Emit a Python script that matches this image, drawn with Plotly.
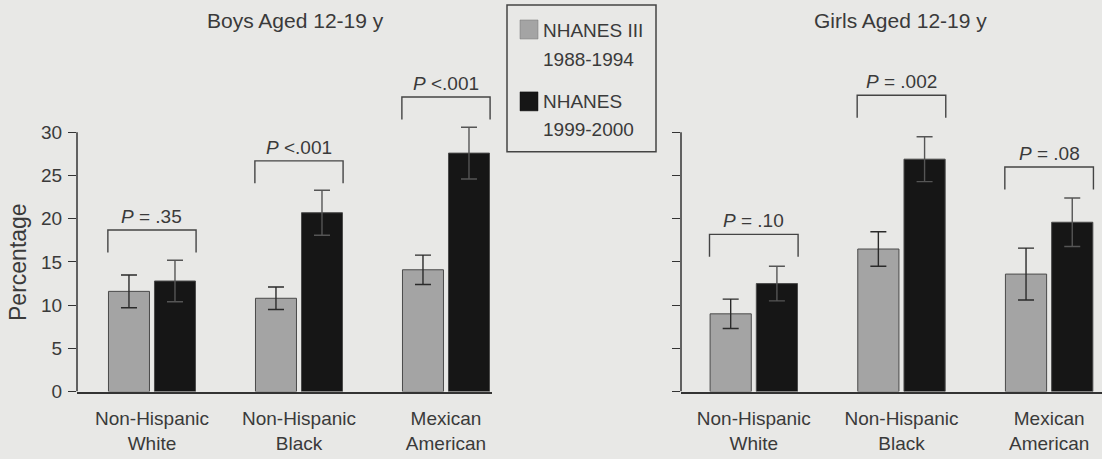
import plotly.graph_objects as go

# ---------------- data ----------------
groups = ["Non-Hispanic<br>White", "Non-Hispanic<br>Black", "Mexican<br>American"]
series_names = ["NHANES III 1988-1994", "NHANES 1999-2000"]

boys_1988 = [11.6, 10.8, 14.1]
boys_1988_err = [1.9, 1.3, 1.7]
boys_1999 = [12.8, 20.7, 27.6]
boys_1999_err = [2.4, 2.6, 3.0]

girls_1988 = [9.0, 16.5, 13.6]
girls_1988_err = [1.7, 2.0, 3.0]
girls_1999 = [12.5, 26.9, 19.6]
girls_1999_err = [2.0, 2.6, 2.8]

boys_p = ["= .35", "<.001", "<.001"]
girls_p = ["= .10", "= .002", "= .08"]
boys_bracket = [18.7, 26.7, 34.1]
girls_bracket = [18.2, 34.3, 26.0]

y_ticks = [0, 5, 10, 15, 20, 25, 30]

# ---------------- style ----------------
W, H = 1102, 459
SY = 0.977  # vertical correction for how the page is photographed
BG = "#e8e8e6"
GRAY = "#a4a4a4"
BLACK = "#161616"
INK = "#3a3a3a"
FONT = "Liberation Sans, Arial, sans-serif"
FS = 19

def px_x(p):
    return p / W

def px_y(p):
    return 1 - (p / SY) / H

fig = go.Figure()
xpos = list(range(len(groups)))

panels = [
    ("x", "y", boys_1988, boys_1988_err, boys_1999, boys_1999_err, boys_p, boys_bracket),
    ("x2", "y2", girls_1988, girls_1988_err, girls_1999, girls_1999_err, girls_p, girls_bracket),
]

annotations = []
for xa, ya, v1, e1, v2, e2, pl, br in panels:
    for vals, errs, col, name, ecol in [
        (v1, e1, GRAY, series_names[0], "#2a2a2a"),
        (v2, e2, BLACK, series_names[1], "#555555"),
    ]:
        fig.add_trace(go.Bar(
            x=xpos, y=vals, name=name, xaxis=xa, yaxis=ya,
            marker=dict(color=col, line=dict(color="#4a4a4a", width=1)),
            error_y=dict(type="data", array=errs, visible=True,
                         color=ecol, thickness=1.4, width=8),
            showlegend=False, hoverinfo="skip",
        ))
    # brackets
    bx, by = [], []
    for i, lvl in enumerate(br):
        bx += [i - 0.3, i - 0.3, i + 0.3, i + 0.3, None]
        by += [lvl - 2.6, lvl, lvl, lvl - 2.6, None]
        annotations.append(dict(
            x=i, y=lvl, xref=xa, yref=ya, xanchor="center", yanchor="bottom", yshift=1,
            text="<i>P</i> " + pl[i], showarrow=False,
            font=dict(family=FONT, size=FS, color=INK)))
    fig.add_trace(go.Scatter(
        x=bx, y=by, xaxis=xa, yaxis=ya, mode="lines",
        line=dict(color="#444444", width=1.4),
        showlegend=False, hoverinfo="skip"))

# y axis lines only from 0 to 30
shapes = []
for xa, ya in [("x", "y"), ("x2", "y2")]:
    shapes.append(dict(type="line", xref=xa + " domain", yref=ya,
                       x0=0, x1=0, y0=y_ticks[0], y1=y_ticks[-1],
                       line=dict(color="#333333", width=1.5)))

# titles
for txt, cx in [("Boys Aged 12-19 y", 295), ("Girls Aged 12-19 y", 900)]:
    annotations.append(dict(x=px_x(cx), y=px_y(21), xref="paper", yref="paper",
                            xanchor="center", yanchor="middle",
                            text=txt, showarrow=False,
                            font=dict(family=FONT, size=21, color=INK)))
# y title
annotations.append(dict(x=px_x(18), y=15, xref="paper", yref="y",
                        xanchor="center", yanchor="middle",
                        text="Percentage", textangle=-90, showarrow=False,
                        font=dict(family=FONT, size=23, color=INK)))

# manual legend
shapes.append(dict(type="rect", xref="paper", yref="paper",
                   x0=px_x(507), x1=px_x(656), y0=px_y(152), y1=px_y(5),
                   line=dict(color="#444444", width=1.5), fillcolor=BG))
shapes.append(dict(type="rect", xref="paper", yref="paper",
                   x0=px_x(520), x1=px_x(538), y0=px_y(39), y1=px_y(20),
                   line=dict(color="#777777", width=0.5), fillcolor=GRAY))
shapes.append(dict(type="rect", xref="paper", yref="paper",
                   x0=px_x(520), x1=px_x(538), y0=px_y(111), y1=px_y(92),
                   line=dict(color="#111111", width=0.5), fillcolor=BLACK))
for txt, yy in [("NHANES III", 31), ("1988-1994", 60), ("NHANES", 102), ("1999-2000", 130)]:
    annotations.append(dict(x=px_x(541), y=px_y(yy), xref="paper", yref="paper",
                            xanchor="left", yanchor="middle", text=txt, showarrow=False,
                            font=dict(family=FONT, size=FS, color=INK)))

y_domain = [px_y(392), px_y(40)]
y_range = [0, (392 - 40) / ((392 - 132.5) / 30)]

axis_common = dict(showgrid=False, zeroline=False, showline=True,
                   linecolor="#333333", linewidth=1.5, ticks="",
                   tickvals=xpos, ticktext=groups, ticklabelstandoff=9,
                   tickfont=dict(family=FONT, size=FS, color=INK))
fig.update_layout(
    width=W, height=H, autosize=False, margin=dict(l=0, r=0, t=0, b=0, pad=0),
    paper_bgcolor=BG, plot_bgcolor=BG,
    barmode="group", bargap=0.374, bargroupgap=0.109,
    xaxis=dict(domain=[px_x(77), px_x(492)], range=[-0.51, 2.313], anchor="y", **axis_common),
    xaxis2=dict(domain=[px_x(681), 1.0], range=[-0.493, 2.358], anchor="y2", **axis_common),
    yaxis=dict(domain=y_domain, range=y_range, anchor="x", showgrid=False, zeroline=False,
               showline=False, ticks="outside", ticklen=8, tickwidth=1.4, tickcolor="#333333",
               tickvals=y_ticks, ticklabelstandoff=2,
               tickfont=dict(family=FONT, size=FS, color=INK)),
    yaxis2=dict(domain=y_domain, range=y_range, anchor="x2", showgrid=False, zeroline=False,
                showline=False, ticks="outside", ticklen=8, tickwidth=1.4, tickcolor="#333333",
                tickvals=y_ticks, showticklabels=False),
    annotations=annotations, shapes=shapes,
)

css = ("var s=document.createElement('style');"
       "s.textContent='html,body{margin:0!important;padding:0!important;"
       "overflow:hidden!important;background:%s}';"
       "document.head.appendChild(s);") % BG

fig.write_html("out.html",
               config={"displayModeBar": False, "responsive": False},
               post_script=css)
